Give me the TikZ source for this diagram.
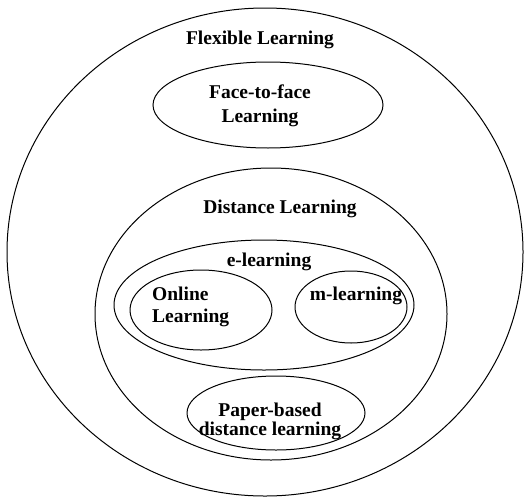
\documentclass[tikz,border=0pt]{standalone}
\usepackage{fontspec}
\setmainfont{Liberation Serif}
\usetikzlibrary{shapes.geometric}
\begin{document}
\begin{tikzpicture}[x=1pt,y=-1pt,
  region/.style={draw, ellipse, line width=1pt, inner sep=0pt},
  lbl/.style={font=\bfseries\fontsize{19.5}{23}\selectfont, inner sep=0pt, anchor=base}]
\useasboundingbox (0,0) rectangle (529,498);
% regions
\node[region, minimum width=516pt, minimum height=488pt] (flex) at (265,252) {};
\node[region, minimum width=230pt, minimum height=86pt] (face) at (268,105) {};
\node[region, minimum width=352pt, minimum height=292pt] (dist) at (271,314) {};
\node[region, minimum width=300pt, minimum height=130pt] (elearn) at (264,305) {};
\node[region, minimum width=142pt, minimum height=80pt] (online) at (201,310) {};
\node[region, minimum width=112pt, minimum height=72pt] (mlearn) at (351,307) {};
\node[region, minimum width=178pt, minimum height=74pt] (paper) at (276,413) {};
% labels (multi-line labels are anchored at the baseline of their last line)
\node[lbl] (tflex) at (260,44) {Flexible Learning};
\node[lbl, align=center, font=\bfseries\fontsize{19.5}{24}\selectfont] (tface) at (260,122) {Face-to-face\\Learning};
\node[lbl] (tdist) at (280,213) {Distance Learning};
\node[lbl] (telearn) at (269,266) {e-learning};
\node[lbl, align=left, anchor=base west, font=\bfseries\fontsize{19.5}{22}\selectfont] (tonline) at (152,322) {Online\\Learning};
\node[lbl] (tmlearn) at (356,300) {m-learning};
\node[lbl, align=center, font=\bfseries\fontsize{19.5}{18.5}\selectfont] (tpaper) at (270,435) {Paper-based\\distance learning};
\end{tikzpicture}
\end{document}
